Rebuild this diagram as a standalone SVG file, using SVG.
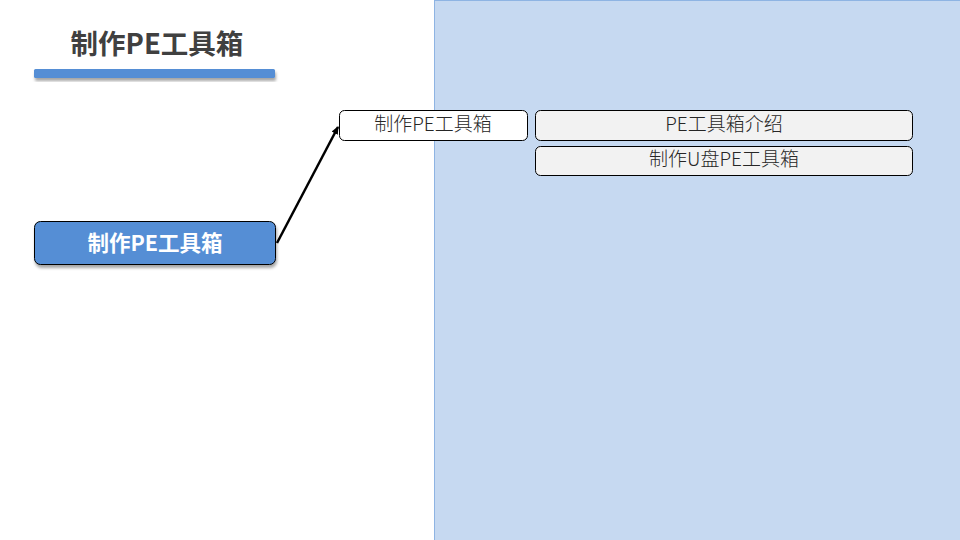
<svg xmlns="http://www.w3.org/2000/svg" width="960" height="540" viewBox="0 0 960 540">
<defs>
<style>
.t{font-family:"Noto Sans CJK SC","Noto Sans",sans-serif;text-anchor:middle;dominant-baseline:central}
.box{stroke:#000;stroke-width:1}
.s{font-size:19px;fill:#262626;font-weight:300}
</style>
<filter id="sh" x="-10%" y="-30%" width="120%" height="170%">
<feDropShadow dx="1" dy="3" stdDeviation="1.5" flood-color="#000" flood-opacity="0.35"/>
</filter>
<marker id="ah" markerWidth="8" markerHeight="8" refX="7" refY="4" orient="auto" markerUnits="userSpaceOnUse">
<path d="M0,0.5 L8,4 L0,7.5 Z" fill="#000"/>
</marker>
</defs>
<rect width="960" height="540" fill="#fff"/>
<rect x="434.5" y="0.5" width="526" height="540" fill="#C6D9F1" stroke="#8EB4E3" stroke-width="1"/>
<g id="title">
<text class="t" x="157" y="42" font-size="27.5" font-weight="bold" fill="#404040">制作PE工具箱</text>
<rect x="34" y="69" width="241" height="9" rx="1.5" fill="#558ED5" filter="url(#sh)"/>
</g>
<g id="connectors">
<line x1="277" y1="243" x2="338" y2="127" stroke="#000" stroke-width="2.5" marker-end="url(#ah)"/>
</g>
<g id="root">
<rect class="box" x="34.5" y="221.5" width="241" height="43" rx="6" fill="#558ED5" filter="url(#sh)"/>
<text class="t" x="155" y="241" font-size="21.5" font-weight="bold" fill="#fff">制作PE工具箱</text>
</g>
<g id="child">
<rect class="box" x="339.5" y="110.5" width="188" height="30" rx="5" fill="#fff"/>
<text class="t s" x="433" y="122">制作PE工具箱</text>
</g>
<g id="item1">
<rect class="box" x="535.5" y="110.5" width="377" height="30" rx="5" fill="#F2F2F2"/>
<text class="t s" x="724" y="122">PE工具箱介绍</text>
</g>
<g id="item2">
<rect class="box" x="535.5" y="146.5" width="377" height="29" rx="5" fill="#F2F2F2"/>
<text class="t s" x="724" y="157.5">制作U盘PE工具箱</text>
</g>
</svg>
